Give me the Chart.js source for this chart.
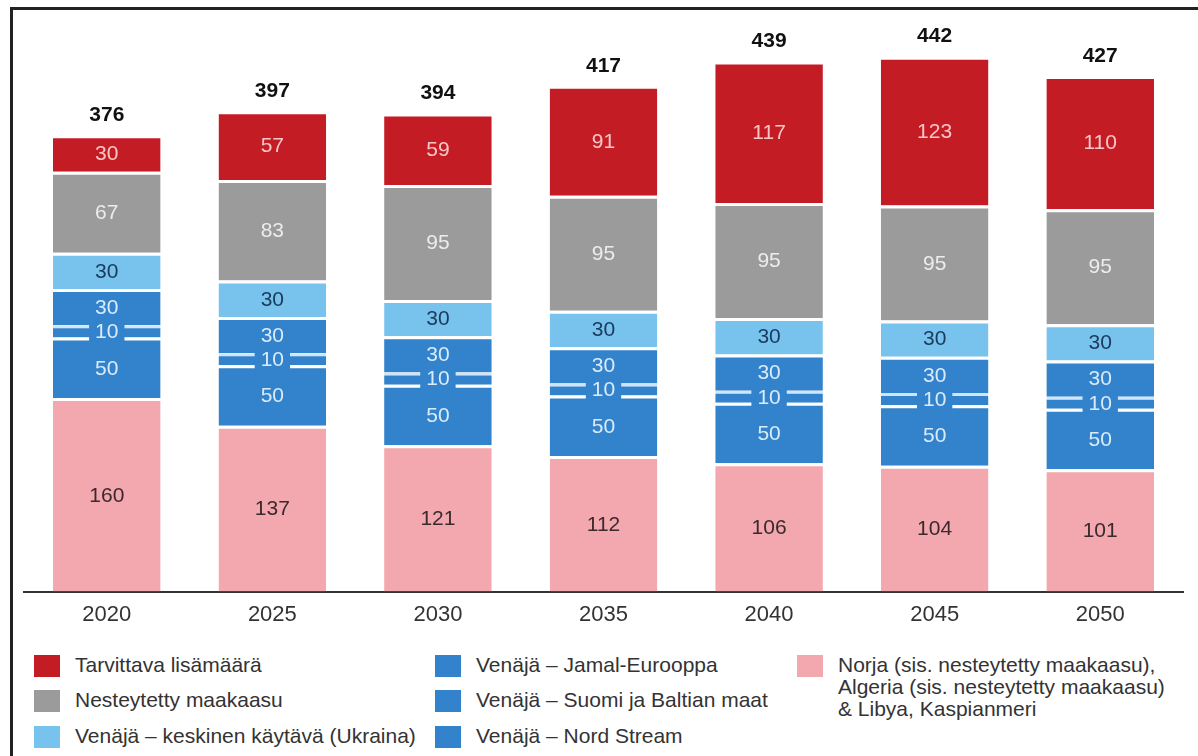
<!DOCTYPE html>
<html>
<head>
<meta charset="utf-8">
<script src="https://cdn.jsdelivr.net/npm/chart.js@4/dist/chart.umd.min.js"></script>
<style>
  body { margin: 0; background: #fff; font-family: "Liberation Sans", Arial, sans-serif; }
  #wrap { position: relative; width: 1198px; height: 756px; overflow: hidden; }
  #frame { position: absolute; left: 10px; top: 7px; width: 1300px; height: 900px; z-index: 5;
           border-left: 3px solid #222; border-top: 3px solid #222; box-sizing: border-box; pointer-events: none; }
  #chartBox { position: absolute; left: 0; top: 0; width: 1198px; height: 630px; }
  .leg { position: absolute; font-size: 21px; color: #333; line-height: 22px; }
  .leg .sw { position: absolute; left: 0; top: 0; width: 26px; height: 22px; }
  .leg .tx { position: absolute; left: 41px; top: -1px; white-space: nowrap; }
</style>
</head>
<body>
<div id="wrap">
  <div id="frame"></div>
  <div id="chartBox"><canvas id="gasChart"></canvas></div>
  <div id="legend"></div>
</div>
<script>
// Categories (years)
const years = ['2020', '2025', '2030', '2035', '2040', '2045', '2050'];

// Series values, bottom to top
const norja = [160, 137, 121, 112, 106, 104, 101];
const nordStream = [50, 50, 50, 50, 50, 50, 50];
const suomiBaltia = [10, 10, 10, 10, 10, 10, 10];
const jamal = [30, 30, 30, 30, 30, 30, 30];
const ukraina = [30, 30, 30, 30, 30, 30, 30];
const nesteytetty = [67, 83, 95, 95, 95, 95, 95];
const lisamaara = [30, 57, 59, 91, 117, 123, 110];

// Totals printed above bars
const totals = [376, 397, 394, 417, 439, 442, 427];

const RED = '#c41c24';
const GRAY = '#9b9b9b';
const LIGHTBLUE = '#78c3ee';
const BLUE = '#3282cc';
const PINK = '#f3a7ae';

const series = [
    { label: 'Norja (sis. nesteytetty maakaasu), Algeria (sis. nesteytetty maakaasu) & Libya, Kaspianmeri', data: norja, color: PINK, text: '#3a2a2d' },
    { label: 'Venäjä – Nord Stream', data: nordStream, color: BLUE, text: '#d9ebf9' },
    { label: 'Venäjä – Suomi ja Baltian maat', data: suomiBaltia, color: BLUE, text: '#d9ebf9', cutout: true },
    { label: 'Venäjä – Jamal-Eurooppa', data: jamal, color: BLUE, text: '#d9ebf9' },
    { label: 'Venäjä – keskinen käytävä (Ukraina)', data: ukraina, color: LIGHTBLUE, text: '#1b3a5c' },
    { label: 'Nesteytetty maakaasu', data: nesteytetty, color: GRAY, text: '#ececec' },
    { label: 'Tarvittava lisämäärä', data: lisamaara, color: RED, text: '#f8c6c6' }
];

const FONT = '"Liberation Sans", Arial, sans-serif';

// Draws the value labels inside segments and the totals on top
const labelPlugin = {
    id: 'segmentLabels',
    afterDatasetsDraw(chart) {
        const ctx = chart.ctx;
        ctx.save();
        ctx.textAlign = 'center';
        ctx.textBaseline = 'middle';
        ctx.font = '21px ' + FONT;
        chart.data.datasets.forEach((ds, i) => {
            const meta = chart.getDatasetMeta(i);
            meta.data.forEach((bar, j) => {
                const y = (bar.y + bar.base) / 2;
                const txt = String(ds.data[j]);
                if (ds.cutout) {
                    // white separator lines are broken around the small label
                    const w = ctx.measureText(txt).width + 12;
                    ctx.fillStyle = ds.backgroundColor;
                    ctx.fillRect(bar.x - w / 2, y - 10, w, 20);
                }
                ctx.fillStyle = ds.textColor;
                ctx.fillText(txt, bar.x, y + 1);
            });
        });
        const top = chart.getDatasetMeta(chart.data.datasets.length - 1);
        ctx.font = 'bold 21px ' + FONT;
        ctx.fillStyle = '#111';
        top.data.forEach((bar, j) => {
            ctx.fillText(String(totals[j]), bar.x, bar.y - 20);
        });
        ctx.restore();
    }
};

function renderChart() {
    const ctx = document.getElementById('gasChart').getContext('2d');
    new Chart(ctx, {
        type: 'bar',
        data: {
            labels: years,
            datasets: series.map(s => ({
                label: s.label,
                data: s.data,
                backgroundColor: s.color,
                borderColor: s.cutout ? '#cfe6f8' : '#ffffff',
                borderWidth: { top: 3, left: 0, right: 0, bottom: 0 },
                borderSkipped: false,
                textColor: s.text,
                cutout: s.cutout || false,
                categoryPercentage: 1,
                barPercentage: 0.65
            }))
        },
        options: {
            responsive: true,
            maintainAspectRatio: false,
            animation: false,
            layout: { padding: { left: 24, right: 15, top: 47, bottom: 0 } },
            plugins: {
                legend: { display: false },
                tooltip: { enabled: false }
            },
            scales: {
                x: {
                    stacked: true,
                    grid: { display: false },
                    border: { display: true, color: '#333', width: 2 },
                    ticks: {
                        color: '#333',
                        padding: 2,
                        font: { size: 22, family: FONT }
                    }
                },
                y: {
                    stacked: true,
                    display: false,
                    min: 0,
                    max: 450
                }
            }
        },
        plugins: [labelPlugin]
    });
}

// Legend laid out in three columns like the original figure
function renderLegend() {
    const items = [
        { x: 34, y: 655, color: RED, text: 'Tarvittava lisämäärä' },
        { x: 34, y: 690, color: GRAY, text: 'Nesteytetty maakaasu' },
        { x: 34, y: 726, color: LIGHTBLUE, text: 'Venäjä – keskinen käytävä (Ukraina)' },
        { x: 435, y: 655, color: BLUE, text: 'Venäjä – Jamal-Eurooppa' },
        { x: 435, y: 690, color: BLUE, text: 'Venäjä – Suomi ja Baltian maat' },
        { x: 435, y: 726, color: BLUE, text: 'Venäjä – Nord Stream' },
        { x: 797, y: 655, color: PINK, text: 'Norja (sis. nesteytetty maakaasu),<br>Algeria (sis. nesteytetty maakaasu)<br>&amp; Libya, Kaspianmeri' }
    ];
    const box = document.getElementById('legend');
    items.forEach(it => {
        const d = document.createElement('div');
        d.className = 'leg';
        d.style.left = it.x + 'px';
        d.style.top = it.y + 'px';
        d.innerHTML = '<div class="sw" style="background:' + it.color + '"></div><div class="tx">' + it.text + '</div>';
        box.appendChild(d);
    });
}

document.addEventListener('DOMContentLoaded', () => {
    renderChart();
    renderLegend();
});
</script>
</body>
</html>
